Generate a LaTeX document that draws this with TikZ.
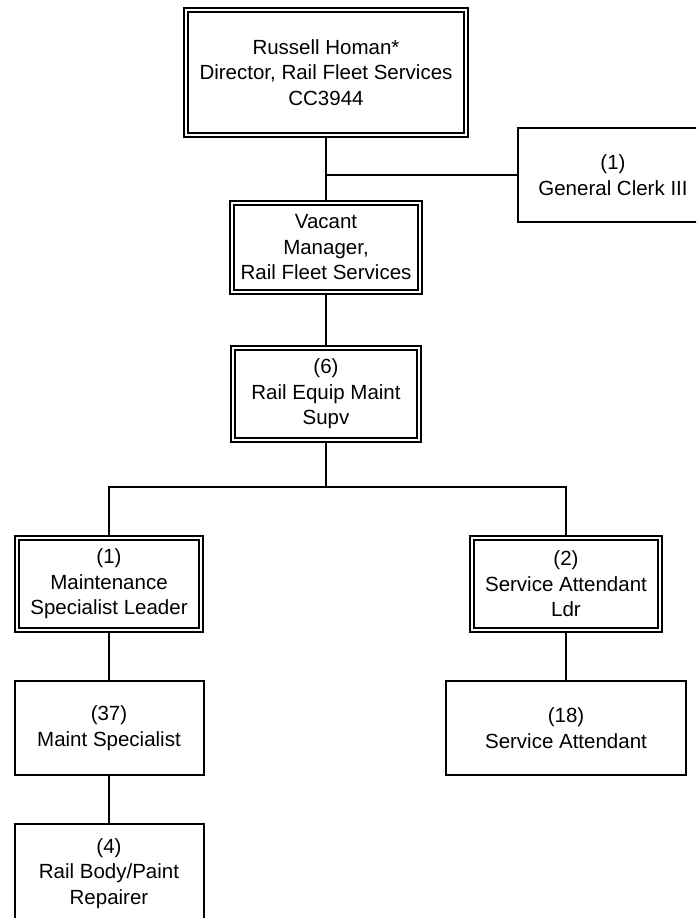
\documentclass[tikz,border=0pt]{standalone}
\usepackage{fontspec}
\setmainfont{Liberation Sans}
\usetikzlibrary{positioning}

\begin{document}
\begin{tikzpicture}[
    x=1pt, y=-1pt,
    font=\fontsize{20.5}{25.5}\selectfont,
    line width=2pt,
    post/.style={draw, line width=2pt, align=center, inner sep=0pt, minimum width=#1, minimum height=94pt},
    lead/.style={draw, line width=2pt, double, double distance=2pt, align=center, inner sep=0pt, minimum width=#1, minimum height=92pt},
]
    \useasboundingbox (0,0) rectangle (696,918);
    \clip (0,0) rectangle (696,918);

    % Director
    \node[lead=280pt, minimum height=125pt] (dir) at (326,72.5) {Russell Homan*\\Director, Rail Fleet Services\\CC3944};

    % Clerk
    \node[post=190pt] (clerk) at (613,175) {(1)\\General Clerk III};

    % Manager
    \node[lead=188pt, minimum height=89pt] (mgr) at (326,247.5) {Vacant\\Manager,\\Rail Fleet Services};

    % Supervisor
    \node[lead=186pt] (supv) at (326,394) {(6)\\Rail Equip Maint\\Supv};

    % Leaders
    \node[lead=184pt] (msl) at (109,584) {(1)\\Maintenance\\Specialist Leader};
    \node[lead=188pt] (sal) at (566,584) {(2)\\Service Attendant\\Ldr};

    % Staff
    \node[post=189pt] (ms) at (109,728) {(37)\\Maint Specialist};
    \node[post=240pt] (sa) at (566,728) {(18)\\Service Attendant};
    \node[post=189pt, minimum height=99pt] (rbp) at (109,873.5) {(4)\\Rail Body/Paint\\Repairer};

    % Lines
    \coordinate (split) at (326,487);
    \draw (dir) -- (mgr);
    \draw (clerk.west) -- (clerk.west -| dir.south);
    \draw (mgr) -- (supv);
    \draw (supv) -- (split);
    \draw (split) -| (msl);
    \draw (split) -| (sal);
    \draw (msl) -- (ms);
    \draw (ms) -- (rbp);
    \draw (sal) -- (sa);

\end{tikzpicture}
\end{document}
